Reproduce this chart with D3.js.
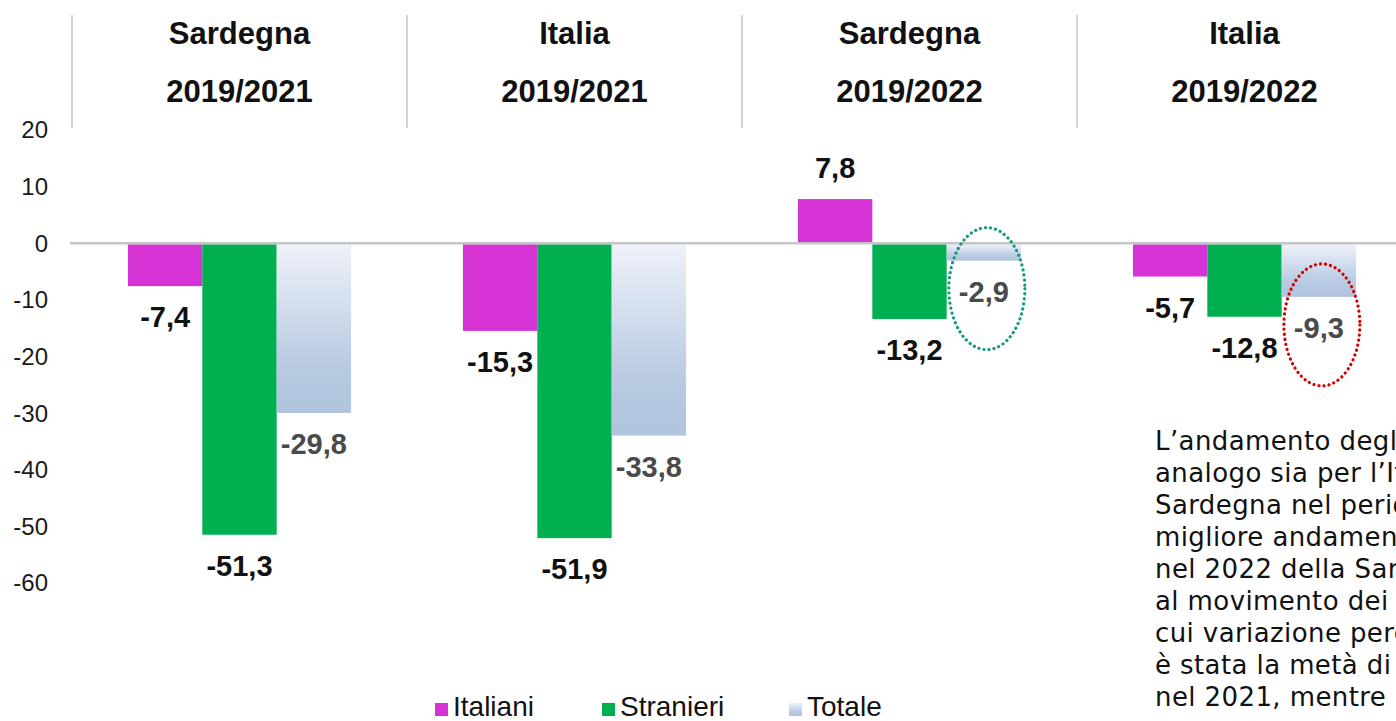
<!DOCTYPE html>
<html>
<head>
<meta charset="utf-8">
<script src="https://cdn.jsdelivr.net/npm/d3@7"></script>
<style>
  html, body { margin: 0; padding: 0; background: #fff; overflow: hidden; }
  svg { display: block; }
</style>
</head>
<body>
<div id="chart"></div>
<script>
// Data
const regions = ['Sardegna', 'Italia', 'Sardegna', 'Italia'];
const periods = ['2019/2021', '2019/2021', '2019/2022', '2019/2022'];
const seriesNames = ['Italiani', 'Stranieri', 'Totale'];
const italiani = [-7.4, -15.3, 7.8, -5.7];
const stranieri = [-51.3, -51.9, -13.2, -12.8];
const totale = [-29.8, -33.8, -2.9, -9.3];
const yTicks = [20, 10, 0, -10, -20, -30, -40, -50, -60];
// groups whose "Totale" label is circled
const circledGroups = [2, 3];
const noteLines = [
    'L’andamento degli',
    'analogo sia per l’Italia',
    'Sardegna nel periodo',
    'migliore andamento',
    'nel 2022 della Sardegna',
    'al movimento dei',
    'cui variazione percentuale',
    'è stata la metà di',
    'nel 2021, mentre'
];

const W = 1396, H = 721;
const COLORS = { 'Italiani': '#d633d6', 'Stranieri': '#00b050', 'Totale': 'url(#totGrad)' };
const CIRCLE_COLORS = ['#139a80', '#d40000'];
const fmt = v => String(v).replace('.', ',');

const values = { 'Italiani': italiani, 'Stranieri': stranieri, 'Totale': totale };
const groups = regions.map((r, i) => ({
    idx: i,
    region: r,
    period: periods[i],
    bars: seriesNames.map(s => ({ series: s, value: values[s][i], group: i }))
}));

const svg = d3.select('#chart').append('svg')
    .attr('width', W)
    .attr('height', H)
    .attr('viewBox', `0 0 ${W} ${H}`);

const defs = svg.append('defs');
const grad = defs.append('linearGradient')
    .attr('id', 'totGrad')
    .attr('x1', 0).attr('y1', 0).attr('x2', 0).attr('y2', 1);
grad.append('stop').attr('offset', '0%').attr('stop-color', '#eef2f9');
grad.append('stop').attr('offset', '70%').attr('stop-color', '#b9cae2');
grad.append('stop').attr('offset', '100%').attr('stop-color', '#b1c4de');

// Scales
const x = d3.scaleBand()
    .domain(d3.range(groups.length))
    .range([72, 1412])
    .paddingInner(0.334)
    .paddingOuter(0.167);

const xs = d3.scaleBand()
    .domain(seriesNames)
    .range([0, x.bandwidth()]);

const y = d3.scaleLinear()
    .domain([-60, 20])
    .range([583, 130]);

// Y tick labels (no axis line)
svg.append('g').attr('class', 'y-ticks')
    .selectAll('text')
    .data(yTicks)
    .join('text')
    .attr('x', 48)
    .attr('y', d => y(d))
    .attr('dy', '0.35em')
    .attr('text-anchor', 'end')
    .attr('font-family', 'Liberation Sans, Arial, sans-serif')
    .attr('font-size', 24)
    .attr('fill', '#1a1a1a')
    .text(d => d);

// Header separators and titles
const step = x.step();
const bandStart = i => x.range()[0] + i * step;

svg.append('g').attr('class', 'separators')
    .selectAll('line')
    .data(groups)
    .join('line')
    .attr('x1', d => bandStart(d.idx))
    .attr('x2', d => bandStart(d.idx))
    .attr('y1', 15)
    .attr('y2', 128)
    .attr('stroke', '#d3d3d3')
    .attr('stroke-width', 2);

const headers = svg.append('g').attr('class', 'headers')
    .selectAll('g')
    .data(groups)
    .join('g')
    .attr('transform', d => `translate(${x(d.idx) + x.bandwidth() / 2},0)`);

headers.append('text')
    .attr('y', 44)
    .attr('text-anchor', 'middle')
    .attr('font-family', 'Liberation Sans, Arial, sans-serif')
    .attr('font-weight', 'bold')
    .attr('font-size', 31)
    .attr('fill', '#111')
    .text(d => d.region);

headers.append('text')
    .attr('y', 102)
    .attr('text-anchor', 'middle')
    .attr('font-family', 'Liberation Sans, Arial, sans-serif')
    .attr('font-weight', 'bold')
    .attr('font-size', 31)
    .attr('fill', '#111')
    .text(d => d.period);

// Bars
const gBars = svg.append('g').attr('class', 'bars')
    .selectAll('g')
    .data(groups)
    .join('g')
    .attr('transform', d => `translate(${x(d.idx)},0)`);

gBars.selectAll('rect')
    .data(d => d.bars)
    .join('rect')
    .attr('x', d => xs(d.series))
    .attr('width', xs.bandwidth())
    .attr('y', d => d.value >= 0 ? y(d.value) : y(0) + 1)
    .attr('height', d => d.value >= 0 ? y(0) - y(d.value) : y(d.value) - y(0))
    .attr('fill', d => COLORS[d.series]);

// Zero line
svg.append('line')
    .attr('x1', 70)
    .attr('x2', W)
    .attr('y1', y(0))
    .attr('y2', y(0))
    .attr('stroke', '#c6c6c6')
    .attr('stroke-width', 2.5);

// Value labels
const labelY = d => d.value >= 0 ? y(d.value) - 21 : y(d.value) + 42;

gBars.selectAll('text')
    .data(d => d.bars)
    .join('text')
    .attr('x', d => xs(d.series) + xs.bandwidth() / 2)
    .attr('y', labelY)
    .attr('text-anchor', 'middle')
    .attr('font-family', 'Liberation Sans, Arial, sans-serif')
    .attr('font-size', 29)
    .attr('font-weight', 'bold')
    .attr('fill', d => d.series === 'Totale' ? '#4a4a4a' : '#111')
    .text(d => fmt(d.value));

// Dotted ellipses around highlighted Totale labels
svg.append('g').attr('class', 'circles')
    .selectAll('ellipse')
    .data(circledGroups.map((g, i) => ({ bar: groups[g].bars[2], color: CIRCLE_COLORS[i] })))
    .join('ellipse')
    .attr('cx', d => x(d.bar.group) + xs('Totale') + xs.bandwidth() / 2 + 3)
    .attr('cy', d => labelY(d.bar) - 13)
    .attr('rx', 38)
    .attr('ry', 61)
    .attr('fill', 'none')
    .attr('stroke', d => d.color)
    .attr('stroke-width', 3.2)
    .attr('stroke-linecap', 'round')
    .attr('stroke-dasharray', '0.1 5');

// Legend
const legendX = [435, 602, 789];
const legend = svg.append('g').attr('class', 'legend')
    .selectAll('g')
    .data(seriesNames)
    .join('g')
    .attr('transform', (d, i) => `translate(${legendX[i]},703)`);

legend.append('rect')
    .attr('width', 13)
    .attr('height', 13)
    .attr('fill', d => COLORS[d]);

legend.append('text')
    .attr('x', 18)
    .attr('y', 13)
    .attr('font-family', 'Liberation Sans, Arial, sans-serif')
    .attr('font-size', 28)
    .attr('fill', '#111')
    .text(d => d);

// Side note text (cut by the page edge)
svg.append('g').attr('class', 'note')
    .selectAll('text')
    .data(noteLines)
    .join('text')
    .attr('x', 1155)
    .attr('y', (d, i) => 450 + i * 32)
    .attr('font-family', 'DejaVu Sans, Verdana, sans-serif')
    .attr('font-size', 26)
    .attr('letter-spacing', 0.4)
    .attr('fill', '#111')
    .text(d => d);
</script>
</body>
</html>
